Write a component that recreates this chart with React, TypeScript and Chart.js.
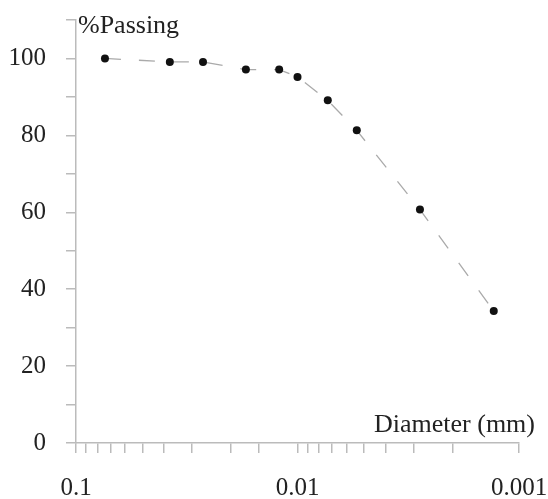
import React, { useEffect, useRef } from "react";
import { Chart, registerables } from "chart.js";

Chart.register(...registerables);

const diameters = [0.074, 0.0377, 0.0267, 0.0171, 0.0121, 0.01, 0.0073, 0.0054, 0.0028, 0.0013];
const passing = [100, 99.1, 99.1, 97.1, 97.1, 95.2, 89.1, 81.3, 60.7, 34.3];
const xTickLabels = [0.1, 0.01, 0.001];
const yTickLabels = [0, 20, 40, 60, 80, 100];
const yTitle = "%Passing";
const xTitle = "Diameter (mm)";

const FONT = "'Liberation Serif', 'Times New Roman', serif";

const titlesPlugin = {
  id: "axisTitles",
  afterDraw(chart: any) {
    const { ctx, chartArea } = chart;
    ctx.save();
    ctx.fillStyle = "#222";
    ctx.font = `26px ${FONT}`;
    ctx.textBaseline = "alphabetic";
    ctx.textAlign = "left";
    ctx.fillText(yTitle, chartArea.left + 2, chartArea.top + 13);
    ctx.textAlign = "right";
    ctx.fillText(xTitle, chartArea.right + 16, chartArea.bottom - 11);
    ctx.restore();
  },
};

export default function App() {
  const ref = useRef<HTMLCanvasElement>(null);
  useEffect(() => {
    if (!ref.current) return;
    const chart = new Chart(ref.current, {
      type: "line",
      data: {
        datasets: [
          {
            data: diameters.map((d, i) => ({ x: d, y: passing[i] })),
            borderColor: "#aaaaaa",
            borderWidth: 1.3,
            borderDash: [16, 18],
            pointRadius: 4,
            pointBackgroundColor: "#111",
            pointBorderColor: "#111",
            pointBorderWidth: 0,
            tension: 0,
          },
        ],
      },
      options: {
        animation: false,
        responsive: false,
        devicePixelRatio: 1,
        layout: { padding: { top: 20, right: 29, left: 0, bottom: 0 } },
        plugins: { legend: { display: false }, tooltip: { enabled: false } },
        scales: {
          x: {
            type: "logarithmic",
            reverse: true,
            min: 0.001,
            max: 0.1,
            afterFit: (s: any) => {
              s.height = 499 - 443;
              s.paddingLeft = 0;
              s.paddingRight = 0;
            },
            border: { color: "#bbbbbb", width: 1.5 },
            grid: {
              drawOnChartArea: false,
              drawTicks: true,
              tickLength: 10,
              color: "#bbbbbb",
              lineWidth: 1.5,
            },
            ticks: {
              autoSkip: false,
              maxRotation: 0,
              padding: 20,
              color: "#222",
              font: { family: FONT, size: 25 },
              callback: (v: any) => {
                const n = Number(v);
                const hit = xTickLabels.find((t) => Math.abs(n - t) / t < 1e-6);
                return hit !== undefined ? String(hit) : "";
              },
            },
          },
          y: {
            min: 0,
            max: 110,
            afterFit: (s: any) => {
              s.width = 76;
              s.paddingTop = 0;
              s.paddingBottom = 0;
            },
            border: { color: "#bbbbbb", width: 1.5 },
            grid: {
              drawOnChartArea: false,
              drawTicks: true,
              tickLength: 10,
              color: "#bbbbbb",
              lineWidth: 1.5,
            },
            ticks: {
              stepSize: 10,
              padding: 20,
              color: "#222",
              font: { family: FONT, size: 25 },
              callback: (v: any) => (yTickLabels.includes(Number(v)) ? String(v) : ""),
            },
          },
        },
      },
      plugins: [titlesPlugin],
    });
    return () => chart.destroy();
  }, []);
  return (
    <div style={{ position: "absolute", left: 0, top: 0, width: 548, height: 499, background: "#fff" }}>
      <canvas ref={ref} width={548} height={499} style={{ width: 548, height: 499 }} />
    </div>
  );
}
